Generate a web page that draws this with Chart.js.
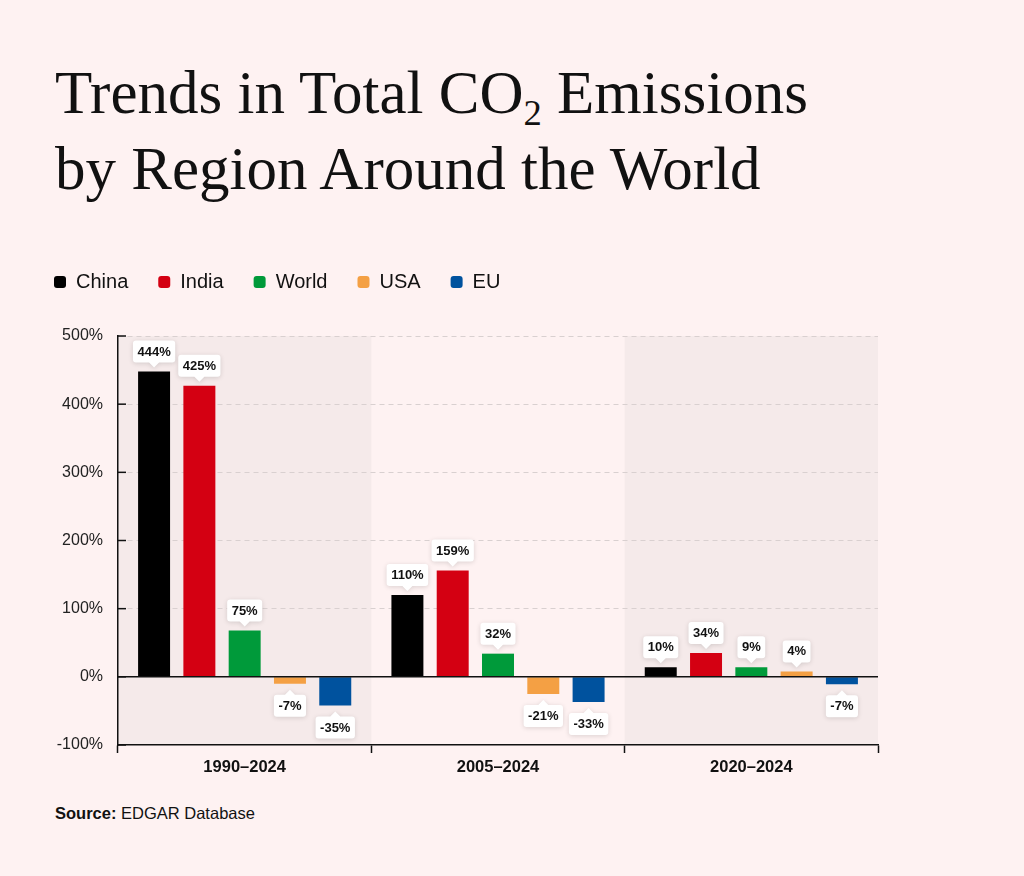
<!DOCTYPE html>
<html>
<head>
<meta charset="utf-8">
<script src="https://cdn.jsdelivr.net/npm/chart.js@4.4.1/dist/chart.umd.min.js"></script>
<style>
  html, body { margin:0; padding:0; background:#fef2f2; }
  body { width:1024px; height:876px; position:relative; overflow:hidden; font-family:"Liberation Sans", Arial, sans-serif; }
  h1 { position:absolute; left:55px; top:55px; margin:0; font-family:"Liberation Serif", "Times New Roman", serif; font-weight:normal; font-size:61px; line-height:76px; color:#111; white-space:nowrap; }
  h1 .sub { font-size:0.6em; line-height:0; position:relative; top:0.32em; }
  #wrap { position:absolute; left:24px; top:242px; width:864px; height:543px; }
  .source { position:absolute; left:55px; top:804px; font-size:16.5px; color:#111; }
</style>
</head>
<body>
<h1>Trends in Total CO<span class="sub">2</span> Emissions<br>by Region Around the World</h1>
<div id="wrap"><canvas id="co2Chart"></canvas></div>
<div class="source"><b>Source:</b> EDGAR Database</div>
<script>
"use strict";
const periods = ["1990–2024", "2005–2024", "2020–2024"];
const regions = ["China", "India", "World", "USA", "EU"];
const regionColors = ["#000000", "#d40012", "#009a3a", "#f4a044", "#00529e"];

// bar heights as drawn in the picture
const chinaBars = [448, 120, 14];
const indiaBars = [427, 156, 35];
const worldBars = [68, 34, 14];
const usaBars   = [-10, -25, 8];
const euBars    = [-42, -37, -11];

// values printed in the callouts
const chinaLabels = [444, 110, 10];
const indiaLabels = [425, 159, 34];
const worldLabels = [75, 32, 9];
const usaLabels   = [-7, -21, 4];
const euLabels    = [-35, -33, -7];

const yTicks = [-100, 0, 100, 200, 300, 400, 500];

const barSets = [chinaBars, indiaBars, worldBars, usaBars, euBars];
const labelSets = [chinaLabels, indiaLabels, worldLabels, usaLabels, euLabels];

const bandPlugin = {
  id: "bands",
  beforeDraw(chart) {
    const { ctx, chartArea } = chart;
    const x = chart.scales.x;
    const w = (chartArea.right - chartArea.left) / periods.length;
    ctx.save();
    ctx.fillStyle = "#f5eaea";
    periods.forEach((p, i) => {
      if (i % 2 === 1) return;
      const cx = x.getPixelForValue(i);
      ctx.fillRect(cx - w / 2, chartArea.top, w, chartArea.bottom - chartArea.top);
    });
    ctx.restore();
  }
};

const axisPlugin = {
  id: "axisExtras",
  afterDatasetsDraw(chart) {
    const { ctx, chartArea } = chart;
    const y = chart.scales.y;
    ctx.save();
    // zero line
    const y0 = y.getPixelForValue(0);
    ctx.strokeStyle = "#111";
    ctx.lineWidth = 1.5;
    ctx.beginPath();
    ctx.moveTo(chartArea.left, y0);
    ctx.lineTo(chartArea.right, y0);
    ctx.stroke();
    // inward ticks on the y axis
    yTicks.forEach(v => {
      const py = y.getPixelForValue(v);
      ctx.beginPath();
      ctx.moveTo(chartArea.left, py);
      ctx.lineTo(chartArea.left + 8, py);
      ctx.stroke();
    });
    ctx.restore();
  }
};

const calloutPlugin = {
  id: "callouts",
  afterDatasetsDraw(chart) {
    const ctx = chart.ctx;
    ctx.save();
    ctx.font = "bold 13px 'Liberation Sans', Arial, sans-serif";
    ctx.textAlign = "center";
    ctx.textBaseline = "middle";
    chart.data.datasets.forEach((ds, di) => {
      const meta = chart.getDatasetMeta(di);
      meta.data.forEach((bar, i) => {
        const val = labelSets[di][i];
        const text = val + "%";
        const up = ds.data[i] >= 0;
        const bw = ctx.measureText(text).width + 9, bh = 22, r = 3, tip = 5, gap = 4;
        const cx = bar.x;
        let top;
        if (up) top = bar.y - gap - tip - bh;
        else top = bar.y + gap + 2 + tip;
        ctx.beginPath();
        ctx.moveTo(cx - bw / 2 + r, top);
        if (!up) { ctx.lineTo(cx - tip, top); ctx.lineTo(cx, top - tip); ctx.lineTo(cx + tip, top); }
        ctx.lineTo(cx + bw / 2 - r, top);
        ctx.arcTo(cx + bw / 2, top, cx + bw / 2, top + r, r);
        ctx.lineTo(cx + bw / 2, top + bh - r);
        ctx.arcTo(cx + bw / 2, top + bh, cx + bw / 2 - r, top + bh, r);
        if (up) { ctx.lineTo(cx + tip, top + bh); ctx.lineTo(cx, top + bh + tip); ctx.lineTo(cx - tip, top + bh); }
        ctx.lineTo(cx - bw / 2 + r, top + bh);
        ctx.arcTo(cx - bw / 2, top + bh, cx - bw / 2, top + bh - r, r);
        ctx.lineTo(cx - bw / 2, top + r);
        ctx.arcTo(cx - bw / 2, top, cx - bw / 2 + r, top, r);
        ctx.closePath();
        ctx.shadowColor = "rgba(0,0,0,0.14)";
        ctx.shadowBlur = 5;
        ctx.shadowOffsetY = 1;
        ctx.fillStyle = "#ffffff";
        ctx.fill();
        ctx.shadowColor = "transparent";
        ctx.fillStyle = "#111";
        ctx.fillText(text, cx, top + bh / 2 + 0.5);
      });
    });
    ctx.restore();
  }
};

const legendGap = {
  id: "legendGap",
  beforeInit(chart) {
    const fit = chart.legend.fit;
    chart.legend.fit = function () {
      fit.bind(chart.legend)();
      this.height = 94;
    };
  }
};

new Chart(document.getElementById("co2Chart"), {
  type: "bar",
  data: {
    labels: periods,
    datasets: regions.map((name, i) => ({
      label: name,
      data: barSets[i],
      backgroundColor: regionColors[i],
      borderWidth: 0,
      categoryPercentage: 0.894,
      barPercentage: 0.706
    }))
  },
  options: {
    responsive: true,
    maintainAspectRatio: false,
    animation: false,
    layout: { padding: { right: 10 } },
    plugins: {
      legend: {
        align: "start",
        labels: {
          boxWidth: 12, boxHeight: 12, useBorderRadius: true, borderRadius: 3,
          padding: 30, color: "#111",
          font: { family: "'Liberation Sans', Arial, sans-serif", size: 20 }
        }
      },
      tooltip: { enabled: false }
    },
    scales: {
      x: {
        grid: { display: true, drawOnChartArea: false, drawTicks: true, tickLength: 8, color: "#111", tickWidth: 1.5 },
        border: { color: "#111", width: 1.5 },
        ticks: { color: "#111", padding: 5, font: { family: "'Liberation Sans', Arial, sans-serif", size: 16.5, weight: "bold" } },
        afterFit(s) { s.height = 40; }
      },
      y: {
        min: -100, max: 500,
        afterBuildTicks(s) { s.ticks = yTicks.map(v => ({ value: v })); },
        grid: {
          drawTicks: false,
          color: ctx => (ctx.tick && (ctx.tick.value === 0 || ctx.tick.value === -100)) ? "transparent" : "#d9d0d0"
        },
        border: { color: "#111", width: 1.5, dash: [5, 4] },
        ticks: {
          color: "#222", padding: 15,
          font: { family: "'Liberation Sans', Arial, sans-serif", size: 16 },
          callback: v => v + "%"
        },
        afterFit(s) { s.width = 94; }
      }
    }
  },
  plugins: [bandPlugin, axisPlugin, calloutPlugin, legendGap]
});
</script>
</body>
</html>
